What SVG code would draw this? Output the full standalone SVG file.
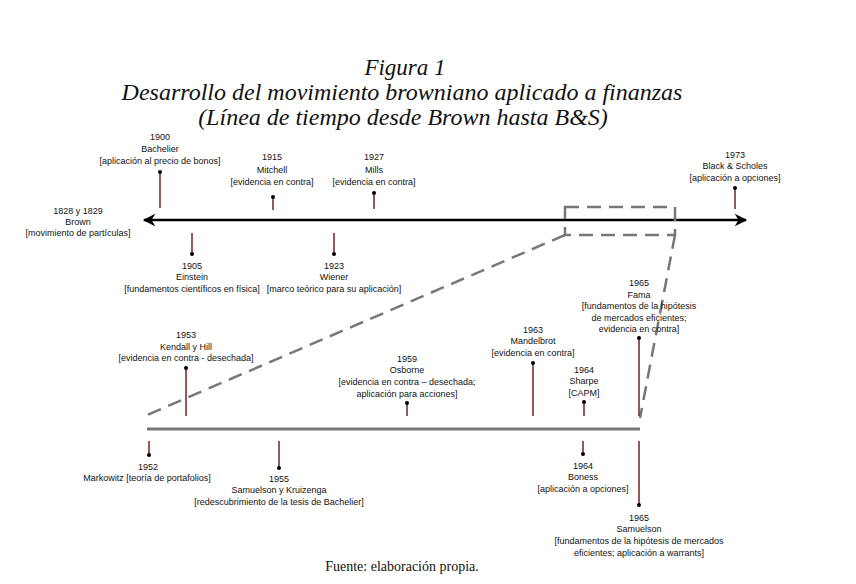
<svg xmlns="http://www.w3.org/2000/svg" width="856" height="584" viewBox="0 0 856 584">
<style>
.t{font-family:"Liberation Serif","Times New Roman",serif;font-style:italic;font-size:24px;fill:#111;text-anchor:middle}
.f{font-family:"Liberation Serif","Times New Roman",serif;font-size:14px;fill:#111;text-anchor:middle}
.l{font-family:"Liberation Sans",Arial,sans-serif;font-size:9px;fill:#111;text-anchor:middle}
.stem{stroke:#6e1010;stroke-width:1.4;fill:none}
.dot{fill:#000}
.dash{stroke:#777;stroke-width:2.5;fill:none;stroke-dasharray:14 8}
</style>
<defs>
<marker id="ar" viewBox="0 0 10 10" refX="9" refY="5" markerWidth="5" markerHeight="5" orient="auto-start-reverse" markerUnits="strokeWidth">
<path d="M0,0 L10,5 L0,10 L3,5 Z" fill="#000"/>
</marker>
</defs>
<rect width="856" height="584" fill="#fff"/>
<g id="title">
<text class="t" x="405" y="75" style="font-size:23px">Figura 1</text>
<text class="t" x="402" y="100">Desarrollo del movimiento browniano aplicado a finanzas</text>
<text class="t" x="403" y="125">(Línea de tiempo desde Brown hasta B&amp;S)</text>
</g>
<g id="connectors">
<line x1="144" y1="220" x2="746" y2="220" stroke="#000" stroke-width="2.5" marker-start="url(#ar)" marker-end="url(#ar)"/>
<rect class="dash" x="565" y="207" width="110" height="28"/>
<line class="dash" x1="565" y1="235" x2="147" y2="415"/>
<line class="dash" x1="675" y1="235" x2="640" y2="418"/>
<line x1="147" y1="429" x2="640" y2="429" stroke="#777" stroke-width="3"/>
<line class="stem" x1="160" y1="172" x2="160" y2="208"/>
<line class="stem" x1="273" y1="197" x2="273" y2="210"/>
<line class="stem" x1="374" y1="193" x2="374" y2="209"/>
<line class="stem" x1="735" y1="188" x2="735" y2="209"/>
<line class="stem" x1="192" y1="233" x2="192" y2="254"/>
<line class="stem" x1="334" y1="233" x2="334" y2="254"/>
<line class="stem" x1="186" y1="368" x2="186" y2="416"/>
<line class="stem" x1="407" y1="403" x2="407" y2="416"/>
<line class="stem" x1="533" y1="363" x2="533" y2="416"/>
<line class="stem" x1="584" y1="402" x2="584" y2="416"/>
<line class="stem" x1="639" y1="338" x2="639" y2="416"/>
<line class="stem" x1="149" y1="441" x2="149" y2="455"/>
<line class="stem" x1="279" y1="441" x2="279" y2="468"/>
<line class="stem" x1="583" y1="441" x2="583" y2="454"/>
<line class="stem" x1="639" y1="441" x2="639" y2="505"/>
</g>
<g id="brown">
<text class="l" x="78" y="214">1828 y 1829</text>
<text class="l" x="78" y="225">Brown</text>
<text class="l" x="78" y="236">[movimiento de partículas]</text>
</g>
<g id="bachelier">
<circle class="dot" cx="160" cy="172" r="2"/>
<text class="l" x="160" y="140">1900</text>
<text class="l" x="160" y="152">Bachelier</text>
<text class="l" x="160" y="164">[aplicación al precio de bonos]</text>
</g>
<g id="mitchell">
<circle class="dot" cx="273" cy="197" r="2"/>
<text class="l" x="272" y="160">1915</text>
<text class="l" x="272" y="173">Mitchell</text>
<text class="l" x="272" y="185">[evidencia en contra]</text>
</g>
<g id="mills">
<circle class="dot" cx="374" cy="193" r="2"/>
<text class="l" x="374" y="160">1927</text>
<text class="l" x="374" y="173">Mills</text>
<text class="l" x="374" y="185">[evidencia en contra]</text>
</g>
<g id="blackscholes">
<circle class="dot" cx="735" cy="188" r="2"/>
<text class="l" x="735" y="158">1973</text>
<text class="l" x="735" y="169">Black &amp; Scholes</text>
<text class="l" x="735" y="181">[aplicación a opciones]</text>
</g>
<g id="einstein">
<circle class="dot" cx="192" cy="254" r="2"/>
<text class="l" x="192" y="269">1905</text>
<text class="l" x="192" y="280">Einstein</text>
<text class="l" x="192" y="292">[fundamentos científicos en física]</text>
</g>
<g id="wiener">
<circle class="dot" cx="334" cy="254" r="2"/>
<text class="l" x="334" y="269">1923</text>
<text class="l" x="334" y="280">Wiener</text>
<text class="l" x="334" y="292">[marco teórico para su aplicación]</text>
</g>
<g id="kendall">
<circle class="dot" cx="186" cy="368" r="2"/>
<text class="l" x="186" y="338">1953</text>
<text class="l" x="186" y="350">Kendall y Hill</text>
<text class="l" x="186" y="361">[evidencia en contra - desechada]</text>
</g>
<g id="osborne">
<circle class="dot" cx="407" cy="403" r="2"/>
<text class="l" x="407" y="362">1959</text>
<text class="l" x="407" y="373">Osborne</text>
<text class="l" x="407" y="385">[evidencia en contra – desechada;</text>
<text class="l" x="407" y="397">aplicación para acciones]</text>
</g>
<g id="mandelbrot">
<circle class="dot" cx="533" cy="363" r="2"/>
<text class="l" x="533" y="333">1963</text>
<text class="l" x="533" y="344">Mandelbrot</text>
<text class="l" x="533" y="356">[evidencia en contra]</text>
</g>
<g id="sharpe">
<circle class="dot" cx="584" cy="402" r="2"/>
<text class="l" x="584" y="373">1964</text>
<text class="l" x="584" y="384">Sharpe</text>
<text class="l" x="584" y="396">[CAPM]</text>
</g>
<g id="fama">
<circle class="dot" cx="639" cy="338" r="2"/>
<text class="l" x="639" y="286">1965</text>
<text class="l" x="639" y="298">Fama</text>
<text class="l" x="639" y="309">[fundamentos de la hipótesis</text>
<text class="l" x="639" y="321">de mercados eficientes;</text>
<text class="l" x="639" y="332">evidencia en contra]</text>
</g>
<g id="markowitz">
<circle class="dot" cx="149" cy="455" r="2"/>
<text class="l" x="148" y="470">1952</text>
<text class="l" x="147" y="481">Markowitz [teoría de portafolios]</text>
</g>
<g id="samuelsonkruizenga">
<circle class="dot" cx="279" cy="468" r="2"/>
<text class="l" x="279" y="482">1955</text>
<text class="l" x="279" y="493">Samuelson y Kruizenga</text>
<text class="l" x="279" y="505">[redescubrimiento de la tesis de Bachelier]</text>
</g>
<g id="boness">
<circle class="dot" cx="583" cy="454" r="2"/>
<text class="l" x="583" y="469">1964</text>
<text class="l" x="583" y="480">Boness</text>
<text class="l" x="583" y="492">[aplicación a opciones]</text>
</g>
<g id="samuelson">
<circle class="dot" cx="639" cy="505" r="2"/>
<text class="l" x="639" y="521">1965</text>
<text class="l" x="639" y="532">Samuelson</text>
<text class="l" x="639" y="544">[fundamentos de la hipótesis de mercados</text>
<text class="l" x="639" y="556">eficientes; aplicación a warrants]</text>
</g>
<g id="footer">
<text class="f" x="402" y="571">Fuente: elaboración propia.</text>
</g>
</svg>
